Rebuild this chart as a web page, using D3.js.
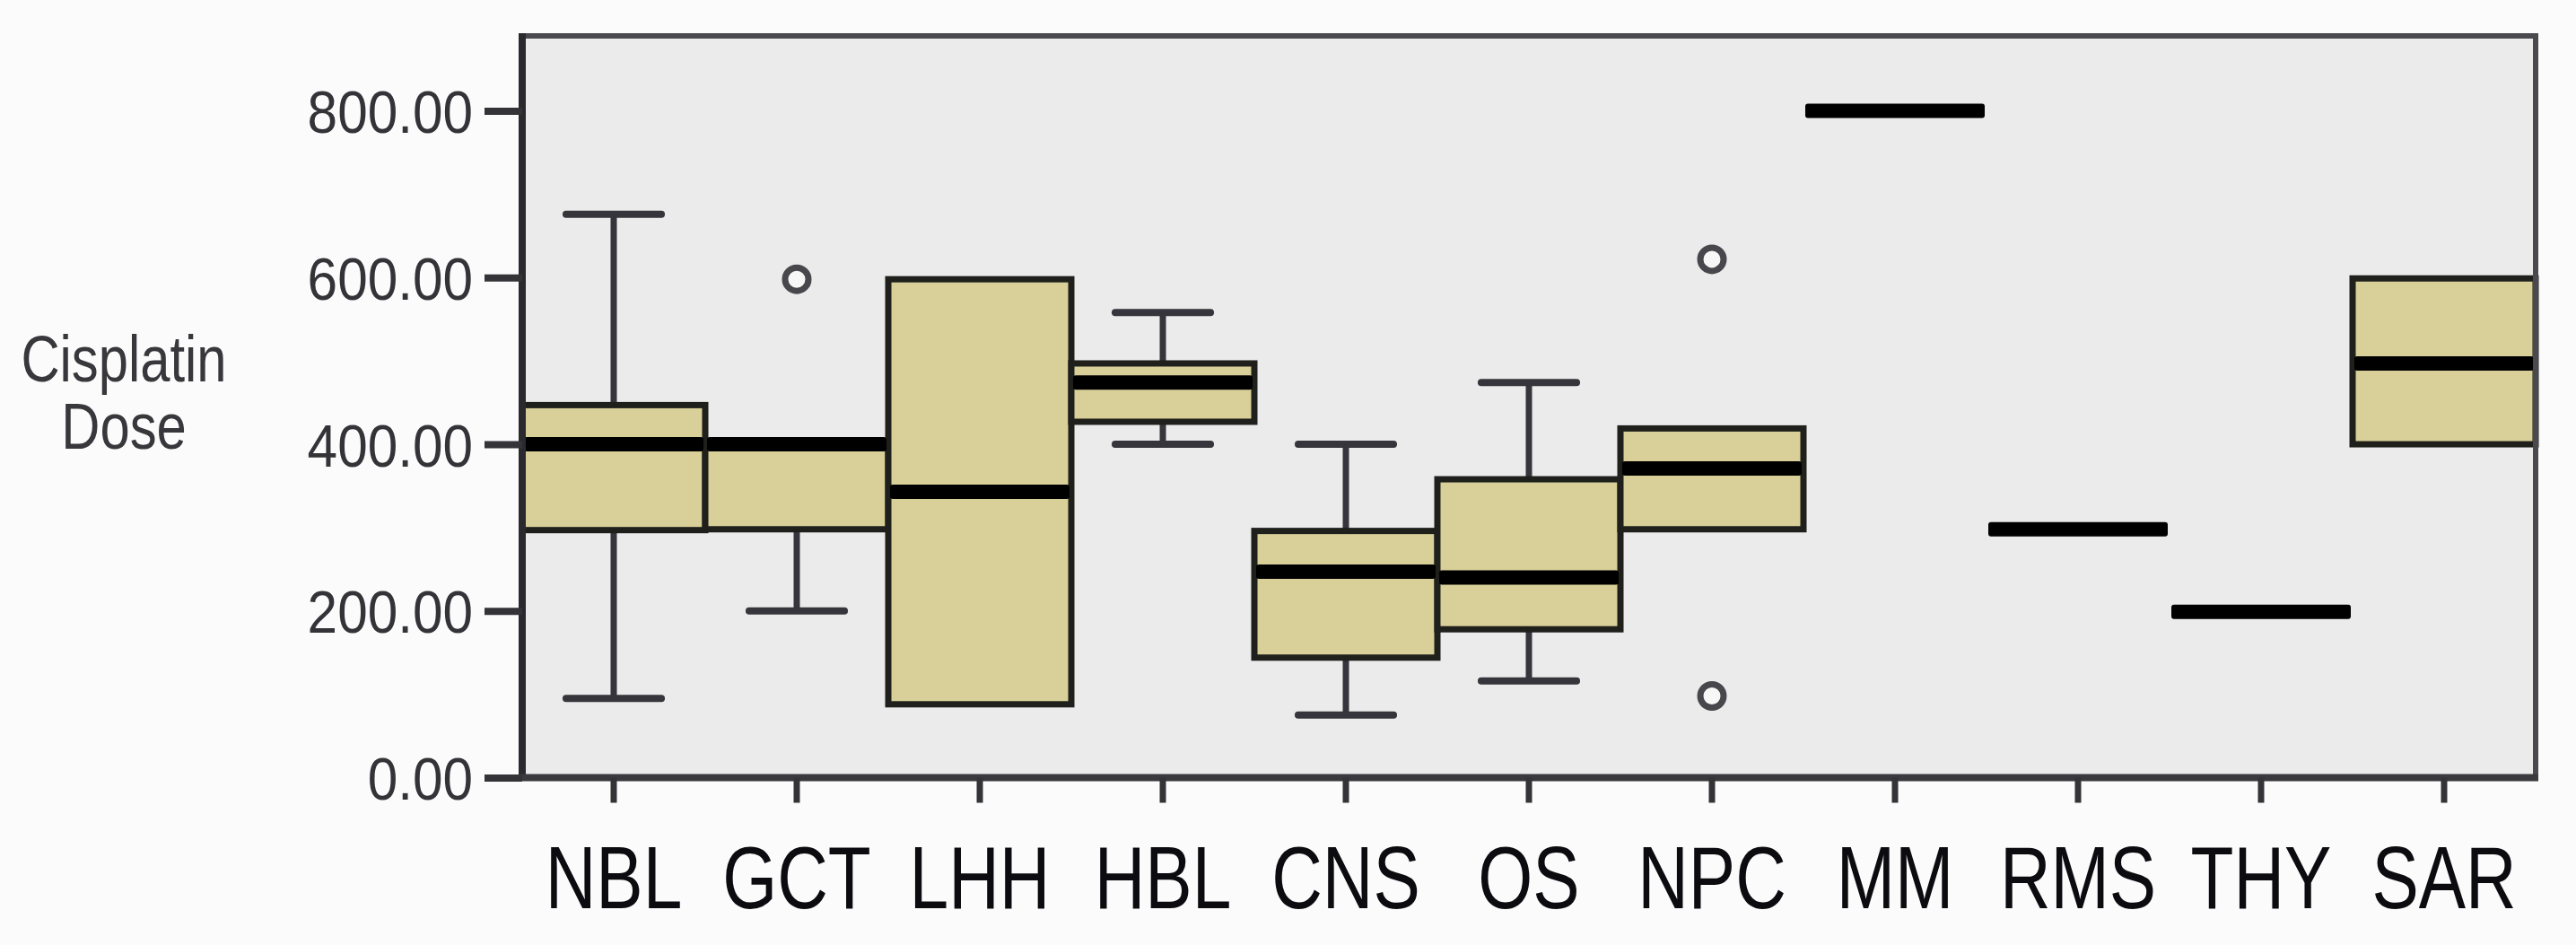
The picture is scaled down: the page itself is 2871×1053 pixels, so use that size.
<!DOCTYPE html>
<html>
<head>
<meta charset="utf-8">
<script src="https://cdn.jsdelivr.net/npm/d3@7"></script>
<style>
  html, body { margin: 0; padding: 0; background: #fbfbfb; }
  svg { display: block; }
</style>
</head>
<body>
<svg id="chart" width="2871" height="1053"></svg>
<script>
// ---- data ----
const categories  = ["NBL", "GCT", "LHH", "HBL", "CNS", "OS", "NPC", "MM", "RMS", "THY", "SAR"];
const whiskerLow  = [95, 200, 88, 400, 75, 116, 298, 800, 298, 199, 400];
const q1          = [297, 298, 88, 427, 144, 178, 298, 800, 298, 199, 400];
const median      = [400, 400, 343, 474, 247, 240, 371, 800, 298, 199, 497];
const q3          = [447, 400, 598, 497, 296, 358, 419, 800, 298, 199, 599];
const whiskerHigh = [676, 400, 598, 558, 400, 474, 419, 800, 298, 199, 599];
const outlierCats = ["GCT", "NPC", "NPC"];
const outlierVals = [598, 622, 98];
const yTicks      = [0, 200, 400, 600, 800];
const yTitle      = ["Cisplatin", "Dose"];

// ---- layout ----
const L = 582, R = 2826, T = 40, B = 866.5;
const svg = d3.select("#chart");

const x = d3.scaleBand().domain(categories).range([L, R]).padding(0);
const y = d3.scaleLinear().domain([0, 890]).range([B, T]);

// plot background
svg.append("rect")
  .attr("x", L).attr("y", T).attr("width", R - L).attr("height", B - T)
  .attr("fill", "#ebebeb");

const boxes = categories.map((c, i) => ({
  c, lo: whiskerLow[i], q1: q1[i], med: median[i], q3: q3[i], hi: whiskerHigh[i]
}));

const bw = x.bandwidth();
const capW = bw * 0.52;
const g = svg.append("g");

// whiskers
boxes.forEach(d => {
  const cx = x(d.c) + bw / 2;
  if (d.hi > d.q3) {
    g.append("line").attr("x1", cx).attr("x2", cx).attr("y1", y(d.q3)).attr("y2", y(d.hi))
      .attr("stroke", "#35353b").attr("stroke-width", 7);
    g.append("line").attr("x1", cx - capW / 2).attr("x2", cx + capW / 2).attr("y1", y(d.hi)).attr("y2", y(d.hi))
      .attr("stroke", "#35353b").attr("stroke-width", 8).attr("stroke-linecap", "round");
  }
  if (d.lo < d.q1) {
    g.append("line").attr("x1", cx).attr("x2", cx).attr("y1", y(d.q1)).attr("y2", y(d.lo))
      .attr("stroke", "#35353b").attr("stroke-width", 7);
    g.append("line").attr("x1", cx - capW / 2).attr("x2", cx + capW / 2).attr("y1", y(d.lo)).attr("y2", y(d.lo))
      .attr("stroke", "#35353b").attr("stroke-width", 8).attr("stroke-linecap", "round");
  }
});

// boxes
boxes.filter(d => d.q3 > d.q1).forEach(d => {
  g.append("rect")
    .attr("x", x(d.c)).attr("width", bw)
    .attr("y", y(d.q3)).attr("height", y(d.q1) - y(d.q3))
    .attr("fill", "#d8d098").attr("stroke", "#1f1f1c").attr("stroke-width", 7);
});

// medians
boxes.forEach(d => {
  g.append("rect")
    .attr("x", x(d.c) + 2).attr("width", bw - 4)
    .attr("y", y(d.med) - 8).attr("height", 16)
    .attr("rx", 3)
    .attr("fill", "#000");
});

// outliers
outlierCats.forEach((c, i) => {
  g.append("circle")
    .attr("cx", x(c) + bw / 2).attr("cy", y(outlierVals[i])).attr("r", 13)
    .attr("fill", "#f7f7f7").attr("stroke", "#48484c").attr("stroke-width", 7);
});

// frame (top/right thinner, left/bottom axis lines)
svg.append("rect")
  .attr("x", L).attr("y", T).attr("width", R - L).attr("height", B - T)
  .attr("fill", "none").attr("stroke", "#4a4a4e").attr("stroke-width", 6);
svg.append("line").attr("x1", L).attr("x2", L).attr("y1", T - 3).attr("y2", B + 3)
  .attr("stroke", "#2a2a2e").attr("stroke-width", 8);
svg.append("line").attr("x1", L - 3).attr("x2", R + 3).attr("y1", B).attr("y2", B)
  .attr("stroke", "#3a3a3e").attr("stroke-width", 8);

// y axis
const yAxis = svg.append("g").attr("transform", `translate(${L},0)`)
  .call(d3.axisLeft(y).tickValues(yTicks).tickFormat(d3.format(".2f")).tickSize(42));
yAxis.select(".domain").remove();
yAxis.selectAll(".tick line").attr("stroke", "#333338").attr("stroke-width", 8);
yAxis.selectAll(".tick text")
  .attr("x", 0).attr("dy", null).attr("dominant-baseline", null)
  .attr("transform", "translate(-55,24) scale(0.9,1)")
  .attr("text-anchor", "end")
  .attr("fill", "#333338")
  .style("font-family", "'Liberation Sans', Arial, sans-serif")
  .style("font-size", "67px");

// x axis
const xAxis = svg.append("g").attr("transform", `translate(0,${B})`)
  .call(d3.axisBottom(x).tickSize(28));
xAxis.select(".domain").remove();
xAxis.selectAll(".tick line").attr("stroke", "#333338").attr("stroke-width", 7);
xAxis.selectAll(".tick text")
  .attr("y", 0).attr("dy", null)
  .attr("transform", "translate(0,145) scale(0.8,1)")
  .attr("text-anchor", "middle")
  .attr("fill", "#0c0c10")
  .style("font-family", "'Liberation Sans', Arial, sans-serif")
  .style("font-size", "98px");

// y title
yTitle.forEach((t, i) => {
  svg.append("text")
    .attr("transform", `translate(138,${425 + i * 75}) scale(0.83,1)`)
    .attr("text-anchor", "middle")
    .attr("fill", "#38383c")
    .style("font-family", "'Liberation Sans', Arial, sans-serif")
    .style("font-size", "72px")
    .text(t);
});
</script>
</body>
</html>
